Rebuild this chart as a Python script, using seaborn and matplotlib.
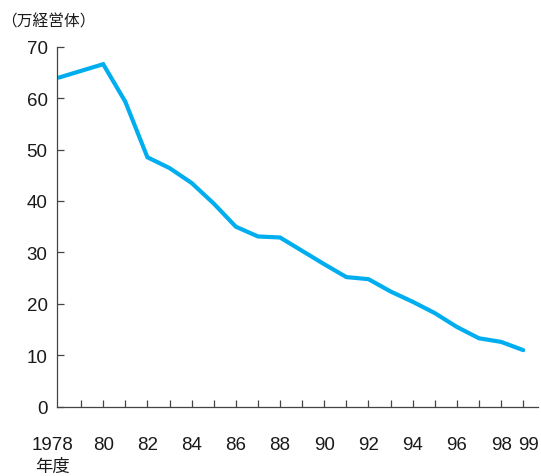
import matplotlib
matplotlib.use("Agg")
import matplotlib.pyplot as plt
import matplotlib.transforms as mtransforms
import seaborn as sns
import pandas as pd

# ---- data ----
years = list(range(1978, 2000))
farms = [64.0, 65.3, 66.6, 59.3, 48.5, 46.4, 43.5, 39.5, 35.0, 33.1, 32.9,
         30.3, 27.7, 25.2, 24.8, 22.4, 20.4, 18.2, 15.5, 13.3, 12.6, 11.0]
xtick_labels = ['1978', '', '80', '', '82', '', '84', '', '86', '', '88', '',
                '90', '', '92', '', '94', '', '96', '', '98', '99']
yticks = [0, 10, 20, 30, 40, 50, 60, 70]
unit_label = '（万経営体）'
year_unit = '年度'

sns.set_style('ticks')
plt.rcParams['font.family'] = ['Liberation Sans', 'DejaVu Sans']

df = pd.DataFrame({'year': years, 'farms': farms})

fig = plt.figure(figsize=(5.41, 4.77), dpi=100)
ax = fig.add_axes([0.1059, 0.1453, 0.8886, 0.7547])

sns.lineplot(data=df, x='year', y='farms', ax=ax, color='#00AEEF',
             linewidth=3.0, solid_joinstyle='miter', legend=False)

ax.set_xlim(1977.923, 1999.67)
ax.set_ylim(0, 70)
ax.set_xlabel('')
ax.set_ylabel('')

for s in ['top', 'right']:
    ax.spines[s].set_visible(False)
for s in ['left', 'bottom']:
    ax.spines[s].set_color('#444444')
    ax.spines[s].set_linewidth(0.9)

ax.set_yticks(yticks)
ax.set_yticklabels([str(v) for v in yticks])
ax.set_xticks(years)
ax.set_xticklabels(xtick_labels)

ax.tick_params(axis='both', direction='in', length=5.2, width=0.9,
               color='#444444', labelcolor='#1a1a1a', labelsize=13.5)
ax.tick_params(axis='y', pad=7)
ax.tick_params(axis='x', pad=21)
ax.xaxis.get_major_ticks()[0].tick1line.set_visible(False)

# nudge the first and last year labels like the original
xl = ax.get_xticklabels()
xl[0].set_transform(xl[0].get_transform() +
                    mtransforms.ScaledTranslation(-6.5 / 100, 0, fig.dpi_scale_trans))
xl[-1].set_transform(xl[-1].get_transform() +
                     mtransforms.ScaledTranslation(5 / 100, 0, fig.dpi_scale_trans))

fig.text(0.002, 1 - 22 / 477, unit_label, ha='left', va='center',
         fontsize=11.3, color='#1a1a1a',
         family=['Noto Sans CJK JP', 'DejaVu Sans'])
fig.text(52 / 541, 1 - 467 / 477, year_unit, ha='center', va='center',
         fontsize=12.5, color='#1a1a1a',
         family=['Noto Sans CJK JP', 'DejaVu Sans'])

fig.savefig('out.png', dpi=100)
